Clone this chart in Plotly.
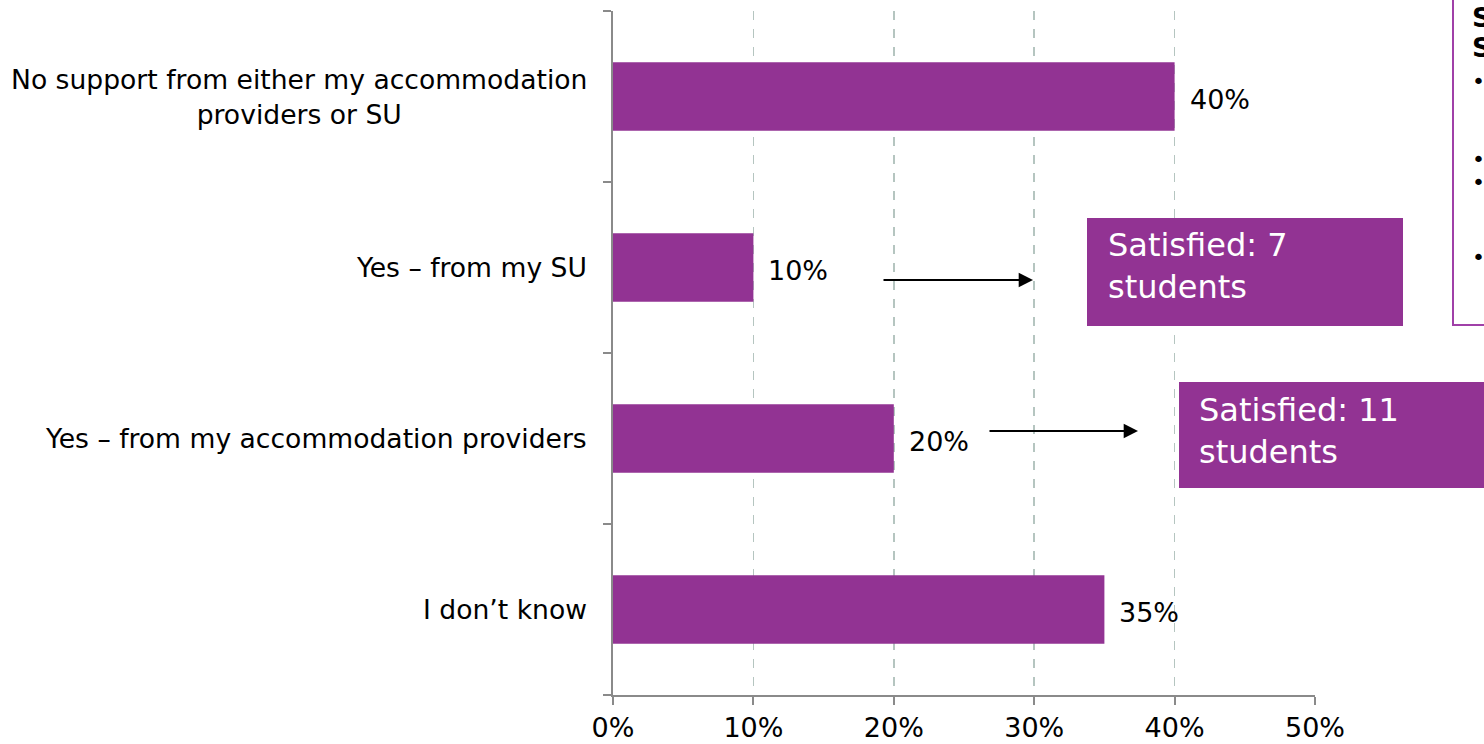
import plotly.graph_objects as go

categories = [
    "No support from either my accommodation<br>providers or SU",
    "Yes – from my SU",
    "Yes – from my accommodation providers",
    "I don’t know",
]
values = [0.40, 0.10, 0.20, 0.35]
value_labels = ["40%", "10%", "20%", "35%"]
x_tickvals = [0, 0.1, 0.2, 0.3, 0.4, 0.5]
x_ticktext = ["0%", "10%", "20%", "30%", "40%", "50%"]
callouts = ["Satisfied: 7<br>students", "Satisfied: 11<br>students"]

PURPLE = "#923393"
FONT = "Verdana, DejaVu Sans, sans-serif"
AXIS = "#8a8a8a"
W, H = 1484, 744
PL, PT, PW, PH = 613, 11, 702, 684          # plot area in page pixels
L, T = PL, PT
R, B = W - L - PW, H - T - PH


def px_x(px):
    return (px - PL) / PW


def px_y(py):
    return (PT + PH - py) / PH


ids = list(range(len(categories)))

fig = go.Figure()
fig.add_trace(go.Bar(
    y=ids, x=values, orientation="h", width=0.4,
    marker=dict(color=PURPLE, line=dict(width=0)),
    hoverinfo="skip", showlegend=False,
))

annotations = []
for i, c in zip(ids, categories):
    annotations.append(dict(
        x=0, xref="paper", y=i, yref="y", text=c, showarrow=False,
        xanchor="right", yanchor="middle", align="center", xshift=-24,
        font=dict(family=FONT, size=26.6, color="#000000"),
    ))
for i, v, t in zip(ids, values, value_labels):
    annotations.append(dict(
        x=v, xref="x", y=i, yref="y", text=t, showarrow=False,
        xanchor="left", yanchor="middle", xshift=13, yshift=-3,
        font=dict(family=FONT, size=27, color="#000000"),
    ))

shapes = []
boxes = [(1087, 218, 1403, 326), (1179, 382, 1600, 488)]
text_pos = [(1106, 266), (1197, 431)]
for (x0, y0, x1, y1), (tx, ty), txt in zip(boxes, text_pos, callouts):
    shapes.append(dict(type="rect", xref="paper", yref="paper",
                       x0=px_x(x0), x1=px_x(x1), y0=px_y(y1), y1=px_y(y0),
                       fillcolor=PURPLE, line=dict(width=0), layer="above"))
    annotations.append(dict(
        x=px_x(tx), xref="paper", y=px_y(ty), yref="paper", text=txt,
        showarrow=False, xanchor="left", yanchor="middle", align="left",
        font=dict(family=FONT, size=32, color="#ffffff"),
    ))

arrows = [((882, 280), (1033, 280)), ((988, 431), (1138, 431))]
for (sx, sy), (ex, ey) in arrows:
    annotations.append(dict(
        x=px_x(ex), xref="paper", y=px_y(ey), yref="paper", text="",
        showarrow=True, ax=sx - ex, ay=sy - ey, axref="pixel", ayref="pixel",
        arrowhead=2, arrowsize=1.3, arrowwidth=2.2, arrowcolor="#000000",
        standoff=0,
    ))

# right-hand box, cut off by the edge of the picture
shapes.append(dict(type="rect", xref="paper", yref="paper",
                   x0=px_x(1453), x1=px_x(1700), y0=px_y(325), y1=px_y(-20),
                   fillcolor="rgba(0,0,0,0)", line=dict(color="#a040a8", width=2)))
for sy in [18, 47]:
    annotations.append(dict(
        x=px_x(1470), xref="paper", y=px_y(sy), yref="paper",
        text="<b>S</b>", showarrow=False, xanchor="left", yanchor="middle",
        align="left", font=dict(family=FONT, size=27, color="#000000"),
    ))
for by in [82, 160, 182, 257]:
    annotations.append(dict(
        x=px_x(1470), xref="paper", y=px_y(by), yref="paper", text="•",
        showarrow=False, xanchor="left", yanchor="middle",
        font=dict(family=FONT, size=22, color="#000000"),
    ))

fig.update_layout(
    width=W, height=H,
    margin=dict(l=L, r=R, t=T, b=B, autoexpand=False),
    paper_bgcolor="#ffffff", plot_bgcolor="#ffffff",
    annotations=annotations, shapes=shapes,
    xaxis=dict(
        range=[0, 0.5], tickvals=x_tickvals, ticktext=x_ticktext,
        showgrid=True, gridcolor="#b5c5c0", griddash="dash", gridwidth=1.5,
        showline=True, linecolor=AXIS, linewidth=2,
        ticks="outside", ticklen=8, tickcolor=AXIS, tickwidth=2,
        tickfont=dict(family=FONT, size=27, color="#000000"),
        zeroline=False, fixedrange=True,
    ),
    yaxis=dict(
        type="linear", range=[3.5, -0.5],
        tickvals=[-0.5, 0.5, 1.5, 2.5, 3.5], ticktext=["", "", "", "", ""],
        showgrid=False, showline=True, linecolor=AXIS, linewidth=2,
        ticks="outside", ticklen=8, tickcolor=AXIS, tickwidth=2,
        zeroline=False, fixedrange=True,
    ),
)

fig.write_html(
    "out.html",
    config={"displayModeBar": False, "staticPlot": True},
    post_script="document.body.style.margin='0px';document.body.style.overflow='hidden';",
)
